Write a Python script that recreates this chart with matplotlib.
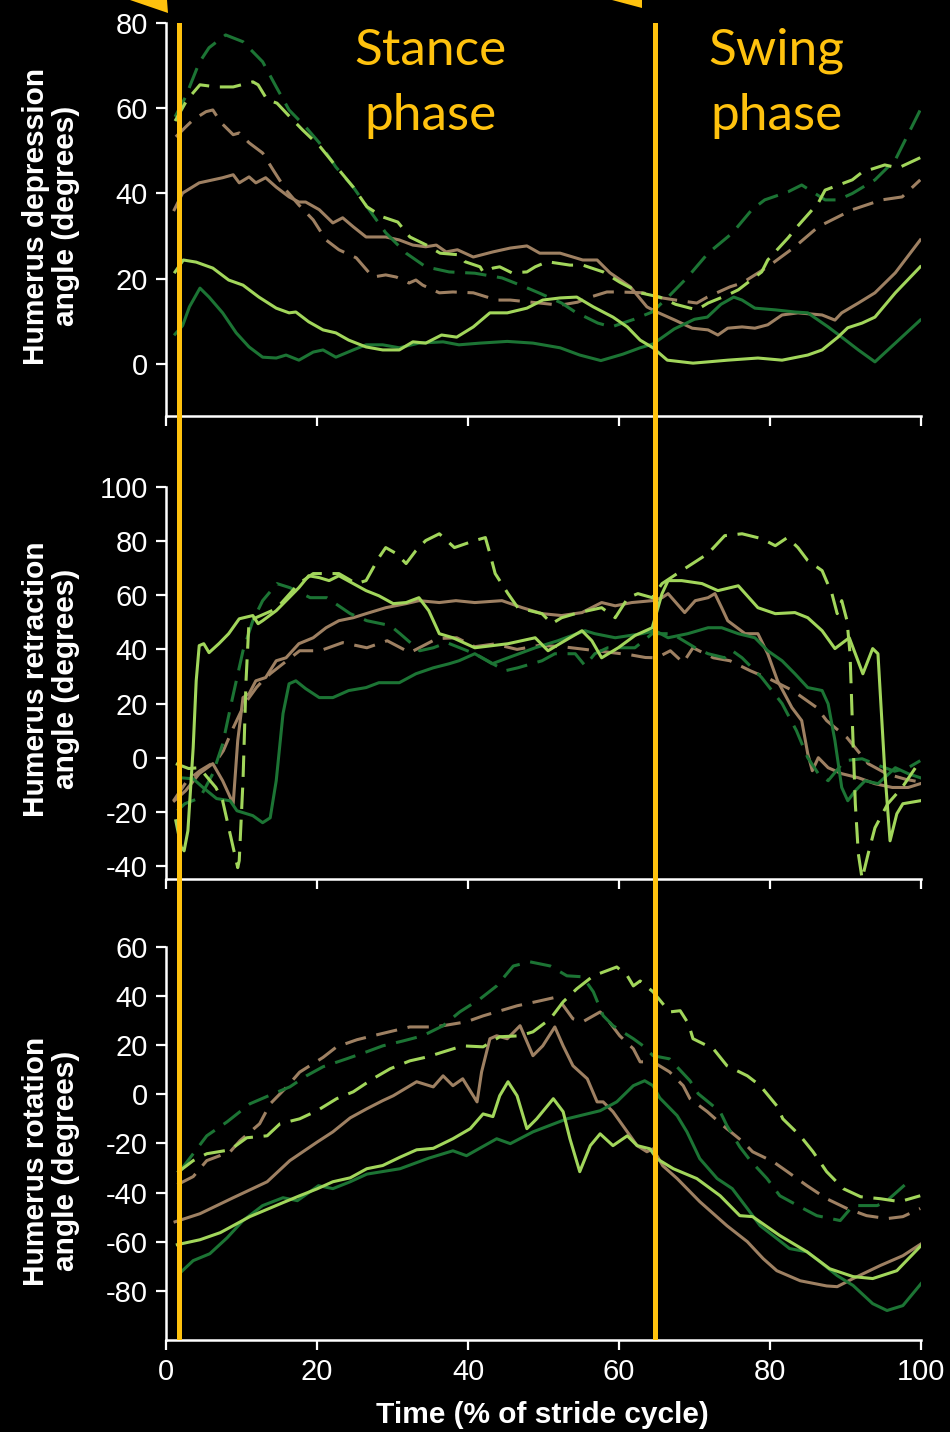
import matplotlib
matplotlib.use('Agg')
import matplotlib.pyplot as plt
from matplotlib.patches import Polygon

plt.rcParams['font.family'] = ['Liberation Sans', 'DejaVu Sans']
plt.rcParams['axes.unicode_minus'] = False

# phase boundaries (% of stride)
phase_lines = [1.7, 64.8]
xticks = [0, 20, 40, 60, 80, 100]

# ---- humerus depression ----
dep_light_solid_x = [1.2, 2.3, 4.0, 6.2, 8.3, 10.2, 12.3, 14.6, 16.3, 17.2, 18.9, 20.8, 22.5, 24.2, 26.5, 28.7, 30.9, 32.7, 34.4, 36.5, 38.5, 40.7, 42.9, 45.2, 47.8, 49.9, 52.2, 54.4, 56.6, 59.2, 61.1, 62.8, 64.5, 66.4, 69.8, 71.8, 74.4, 78.4, 81.6, 85.0, 86.9, 89.0, 90.3, 92.2, 93.9, 96.6, 99.9]
dep_light_solid_y = [21.6, 24.4, 23.9, 22.5, 19.7, 18.5, 15.7, 13.1, 12.0, 12.2, 9.9, 8.0, 7.3, 5.6, 4.0, 3.3, 3.3, 5.2, 4.9, 6.8, 6.3, 8.7, 12.0, 12.0, 13.1, 15.0, 15.5, 15.7, 13.4, 11.0, 8.7, 5.6, 3.8, 0.9, 0.2, 0.5, 0.9, 1.4, 0.9, 2.1, 3.3, 6.3, 8.5, 9.6, 11.0, 16.7, 22.8]
dep_light_dash_x = [1.2, 2.8, 4.5, 6.7, 8.9, 11.5, 12.2, 13.4, 14.7, 16.4, 18.1, 20.4, 22.6, 24.8, 26.6, 28.7, 30.7, 32.3, 34.5, 36.3, 38.9, 39.6, 41.6, 42.0, 43.3, 44.2, 45.8, 47.8, 48.9, 50.5, 53.5, 55.2, 57.9, 60.1, 62.8, 65.4, 67.5, 70.3, 71.8, 74.4, 75.8, 78.9, 79.7, 82.4, 83.6, 86.4, 87.3, 90.9, 92.2, 95.2, 97.0, 99.9]
dep_light_dash_y = [57, 62, 65.5, 65, 65, 66.2, 65.5, 62, 61.2, 58, 54.9, 51, 46.2, 41.5, 36.9, 34.5, 33.3, 29.8, 27.9, 26, 25.6, 24, 22.8, 21.6, 22.5, 22.8, 21.4, 21.6, 22.8, 24, 23.2, 23.2, 21.6, 19.2, 16.7, 15.7, 14, 12.7, 14.3, 16.2, 17.4, 21.6, 24.4, 29.6, 32.2, 37.8, 40.8, 43.2, 45, 46.7, 46, 48.4]
dep_dark_solid_x = [1.2, 2.2, 3.1, 4.5, 5.7, 7.5, 9.3, 11.0, 12.8, 14.6, 15.9, 17.6, 19.5, 20.8, 22.5, 24.8, 26.5, 28.7, 30.9, 33.5, 36.7, 38.8, 41.6, 45.2, 48.6, 52.2, 54.8, 57.6, 60.5, 62.8, 64.5, 67.3, 70.0, 71.7, 73.5, 75.2, 76.3, 78.0, 80.7, 83.3, 85.0, 87.7, 89.5, 91.7, 93.9, 96.6, 99.9]
dep_dark_solid_y = [7, 9, 13.4, 17.8, 15.7, 12, 7.3, 4, 1.6, 1.4, 2.1, 0.9, 2.8, 3.3, 1.6, 3.3, 4.5, 4.5, 3.8, 4.9, 5.2, 4.5, 4.9, 5.3, 4.9, 3.8, 2.1, 0.8, 2.3, 3.8, 4.7, 8.2, 10.5, 11, 14, 15.7, 15, 13.1, 12.7, 12.2, 12, 8.7, 6.3, 3.3, 0.5, 4.9, 10.3]
dep_dark_dash_x = [1.2, 2.6, 4.4, 5.7, 7.9, 10.2, 12.8, 14.6, 16.3, 18.5, 20.3, 22.5, 24.8, 26.9, 29.1, 31.8, 34.4, 37.5, 40.9, 44.5, 47.5, 49.5, 52.4, 54.2, 57.2, 59.0, 62.0, 64.4, 66.5, 69.1, 71.8, 75.0, 77.6, 79.3, 82.4, 84.2, 87.3, 89.0, 90.9, 93.9, 96.6, 99.9]
dep_dark_dash_y = [58, 62.7, 70.7, 74.2, 77.2, 75.6, 70.9, 65, 59.6, 55.6, 51.9, 46.2, 41.5, 36.2, 30.8, 26, 22.8, 21.6, 21.3, 20.2, 18.1, 16.6, 14.3, 12.2, 9.6, 8.7, 10.5, 12.2, 15.7, 20.4, 26, 30.7, 36.2, 38.5, 40.4, 42, 38.5, 38.5, 40, 43.2, 47.9, 59.6]
dep_brown_solid_x = [1.1, 2.2, 4.4, 7.5, 8.9, 9.7, 11.0, 11.9, 13.2, 14.6, 16.3, 17.6, 18.5, 20.3, 22.1, 23.4, 24.8, 26.5, 29.1, 30.9, 32.7, 34.4, 35.8, 37.1, 38.6, 40.7, 43.3, 45.6, 47.8, 49.5, 52.2, 55.2, 57.1, 58.8, 61.5, 63.7, 65.0, 67.4, 69.7, 71.8, 73.1, 74.4, 76.3, 78.0, 79.7, 81.6, 83.7, 86.9, 88.6, 89.5, 91.7, 93.9, 96.6, 99.9]
dep_brown_solid_y = [36.2, 40.1, 42.5, 43.7, 44.4, 42.5, 43.9, 42.5, 43.7, 41.5, 39.2, 38, 38, 36.2, 33.1, 34.3, 32.2, 29.8, 29.8, 29.1, 27.9, 27.5, 27.9, 26.3, 26.8, 25.1, 26.3, 27.2, 27.7, 26, 26, 24.4, 24.4, 21.4, 18.1, 13.4, 12.2, 10.3, 8.4, 8, 6.8, 8.4, 8.7, 8.4, 9.2, 11.5, 12, 11.5, 10.3, 12, 14.3, 16.7, 21.4, 29.1]
dep_brown_dash_x = [1.3, 2.6, 3.6, 5.3, 6.2, 7.3, 8.9, 9.7, 11.0, 12.8, 14.2, 15.9, 17.6, 19.5, 21.2, 22.9, 25.2, 27.4, 29.1, 30.5, 32.2, 33.1, 34.0, 36.2, 38.0, 40.7, 43.8, 45.6, 47.8, 49.5, 52.2, 54.5, 56.2, 58.4, 60.1, 63.2, 65.0, 67.5, 70.3, 71.7, 74.7, 76.3, 79.7, 83.3, 86.4, 90.9, 94.8, 97.5, 99.9]
dep_brown_dash_y = [53.3, 55.6, 57.3, 59.2, 59.6, 56.6, 53.8, 54.2, 51.9, 49.5, 45.5, 40.8, 37.3, 33.8, 29.1, 26.8, 24.9, 20.4, 20.9, 20.4, 19, 19.7, 18.5, 16.7, 16.9, 16.7, 15, 15, 14.6, 14.3, 13.8, 14.5, 15.7, 16.9, 16.9, 16.7, 15.7, 15, 14.3, 15.7, 18.1, 19, 22.8, 27.5, 32.2, 36.2, 38.5, 39.2, 43.2]

# ---- humerus retraction ----
ret_light_solid_x = [1.3, 2.0, 2.4, 2.9, 3.6, 4.0, 4.4, 5.0, 5.7, 7.0, 8.3, 9.7, 11.5, 12.2, 12.8, 14.6, 16.3, 17.6, 18.9, 20.3, 21.6, 22.9, 24.8, 26.5, 28.2, 30.1, 31.8, 33.5, 34.8, 36.2, 38.0, 40.9, 45.3, 48.9, 50.6, 52.4, 55.1, 56.4, 57.7, 59.9, 62.1, 64.4, 65.7, 66.5, 68.3, 71.0, 73.1, 75.8, 78.4, 80.7, 83.3, 85.0, 86.9, 88.6, 90.5, 92.3, 93.6, 94.3, 95.2, 95.9, 96.8, 97.6, 99.9]
ret_light_solid_y = [-23.3, -33, -34.4, -27, 3.7, 28.4, 41.4, 42.1, 38.8, 42.1, 45.8, 51.3, 52.5, 49.5, 50.6, 54.3, 59.1, 62.8, 67.2, 66.5, 65.4, 67.2, 64.3, 61.7, 59.8, 56.9, 57.3, 59.1, 54.3, 45.8, 44.3, 40.6, 42.1, 44.3, 39.5, 42.5, 46.9, 43.2, 36.9, 40.6, 45.1, 48, 60.6, 65.4, 65.4, 64.3, 61.7, 63.5, 55.4, 53.2, 53.6, 51.7, 46.9, 40.3, 44.3, 31, 40.3, 38.4, -4.8, -30.7, -20.7, -17, -15.9]
ret_light_dash_x = [1.3, 3.0, 4.4, 6.6, 7.5, 9.5, 9.7, 10.2, 10.6, 11.0, 11.9, 14.6, 17.6, 19.5, 22.9, 25.2, 26.5, 28.2, 29.1, 30.5, 31.8, 33.1, 34.4, 36.2, 38.2, 40.9, 42.3, 42.9, 43.6, 45.3, 46.6, 49.8, 51.1, 52.4, 54.2, 55.9, 57.7, 59.5, 61.2, 62.5, 64.4, 65.7, 68.3, 71.8, 74.0, 76.3, 78.9, 80.7, 82.3, 83.7, 85.0, 86.9, 88.2, 88.9, 89.5, 90.2, 90.6, 90.9, 91.3, 91.7, 92.2, 93.0, 93.9, 95.6, 97.5, 99.9]
ret_light_dash_y = [-2.2, -4, -3.7, -11, -15.9, -40.6, -38, -8.5, 28.4, 50.6, 51.7, 55, 64.3, 68, 68, 64.3, 65.4, 73.9, 77.6, 75.4, 71.7, 76.5, 80.2, 82.7, 77.6, 80.2, 81.3, 75.4, 68, 60.6, 55.4, 53.2, 49.5, 51.7, 53.2, 54.3, 55.4, 51.7, 59.1, 60.6, 59.1, 64.3, 69.1, 75.4, 82, 82.7, 80.9, 78.3, 81.3, 77.6, 72.8, 69.1, 60.6, 53.2, 58, 50.6, 38.4, 13.7, -17, -35.5, -44.7, -35.5, -25.9, -17, -11, -1.1]
ret_dark_solid_x = [1.9, 3.6, 4.9, 6.7, 8.5, 9.4, 11.5, 12.8, 13.8, 14.6, 15.5, 16.3, 17.2, 18.5, 20.3, 22.1, 24.2, 26.5, 28.2, 30.9, 33.1, 35.4, 37.5, 38.8, 40.9, 43.2, 45.3, 48.9, 51.9, 55.5, 56.8, 59.5, 63.0, 64.8, 66.5, 69.1, 71.8, 73.6, 75.8, 78.0, 79.7, 81.6, 83.3, 85.0, 86.9, 87.7, 88.6, 89.5, 90.3, 91.3, 92.6, 94.3, 96.6, 98.3, 99.9]
ret_dark_solid_y = [-7.4, -7.8, -11, -15.1, -15.9, -19.6, -21.4, -24, -22.2, -8.5, 16.3, 27.3, 28.4, 25.5, 22.2, 22.2, 24.8, 25.9, 27.7, 27.7, 31, 33.2, 34.7, 35.8, 38.4, 34.7, 36.9, 40.6, 43.2, 46.9, 45.8, 44.3, 45.8, 46.9, 44.3, 45.8, 48, 48, 45.8, 44.3, 39.5, 35.8, 31, 25.9, 24.8, 19.9, 6.3, -11, -15.9, -12.2, -8.5, -9.6, -3.7, -5.9, -7.4]
ret_dark_dash_x = [1.5, 2.5, 4.5, 6.2, 7.5, 8.8, 10.2, 11.5, 12.8, 14.7, 16.4, 19.1, 21.3, 24.4, 26.6, 29.7, 31.0, 33.6, 35.4, 37.2, 40.9, 42.6, 44.9, 46.6, 49.8, 51.5, 54.2, 55.5, 56.8, 58.5, 62.1, 64.4, 67.0, 70.1, 71.8, 74.0, 75.0, 76.3, 78.9, 81.6, 83.5, 85.0, 86.4, 87.7, 89.9, 92.2, 94.5, 96.5, 98.3, 99.9]
ret_dark_dash_y = [-19.6, -17, -14.8, -5.9, 5, 22, 39.5, 50.6, 58, 64.3, 62.8, 59.1, 59.1, 53.2, 50.6, 48.8, 45.8, 39.5, 40.6, 42.5, 38.4, 35.8, 32.1, 33.2, 35.8, 38.4, 38.4, 34, 38.4, 40.6, 40.6, 45.8, 45.8, 40.6, 38.4, 36.9, 39.5, 36.9, 29.6, 20, 10, 0, -5.9, -8.5, -1.1, -0.4, -3, -5, -3.7, -1.1]
ret_brown_solid_x = [1.1, 2.6, 4.4, 6.2, 7.5, 8.9, 9.5, 10.2, 11.0, 11.9, 13.2, 14.6, 15.9, 17.6, 19.5, 21.2, 22.9, 24.8, 26.5, 29.1, 31.8, 33.5, 36.2, 38.4, 40.9, 44.5, 47.2, 49.8, 52.4, 55.1, 57.7, 59.5, 61.7, 64.4, 65.7, 66.5, 68.7, 70.1, 71.8, 72.7, 73.6, 74.4, 76.7, 78.4, 79.7, 81.0, 82.9, 84.2, 85.0, 85.6, 86.4, 87.7, 89.5, 91.7, 93.9, 96.2, 98.3, 99.9]
ret_brown_solid_y = [-15.9, -12.2, -5.9, -2.2, -8.5, -17, 6.3, 22.2, 23.6, 28.4, 29.6, 35.8, 36.9, 42.1, 44.3, 48, 50.6, 51.7, 53.2, 55.4, 56.9, 58, 57.3, 58, 57.3, 58, 55.4, 53.2, 52.5, 53.6, 57.3, 56.1, 57.3, 58, 59.1, 60.6, 53.6, 58, 59.1, 60.6, 55.4, 50.6, 45.8, 45.8, 38.4, 28.4, 18.5, 13.7, 1.5, -4.8, 0, -3.7, -5.9, -7.4, -9.6, -11, -11, -9.6]
ret_brown_dash_x = [1.0, 2.8, 4.5, 6.7, 7.6, 8.9, 9.8, 10.7, 12.0, 12.8, 13.8, 16.0, 17.7, 20.4, 23.4, 26.6, 29.3, 32.3, 35.9, 38.5, 40.9, 43.5, 46.5, 49.5, 52.5, 55.5, 58.5, 61.5, 63.5, 65.0, 66.8, 68.5, 69.8, 72.5, 74.7, 77.4, 80.0, 83.0, 86.2, 87.5, 90.2, 93.0, 95.5, 98.0, 99.9]
ret_brown_dash_y = [-15.9, -8.5, -4.8, -1.1, 2.6, 11, 16.3, 21, 26, 28.4, 31, 35.8, 39.5, 39.5, 42.5, 40.6, 43.2, 38.8, 44, 44.3, 41, 42, 40, 41.5, 41, 40, 39, 38, 37, 36.9, 39.5, 35.1, 40.6, 36.9, 35.8, 32.1, 29, 24.8, 18.5, 13.7, 7.4, -2.2, -6, -8, -9]

# ---- humerus rotation ----
rot_light_solid_x = [1.5, 4.5, 7.2, 11.1, 15.5, 17.7, 20.0, 22.1, 24.4, 26.6, 28.7, 31.0, 33.2, 35.4, 38.0, 40.3, 42.0, 43.3, 44.2, 45.3, 46.5, 47.8, 49.1, 51.3, 52.6, 53.5, 54.8, 56.2, 57.5, 59.2, 61.1, 62.4, 64.1, 65.0, 67.2, 70.3, 73.4, 76.0, 77.7, 81.3, 84.9, 87.9, 91.0, 93.6, 96.8, 100.0]
rot_light_solid_y = [-61.2, -59.2, -56.3, -49.8, -44.1, -41.3, -38.5, -35.6, -34, -30.3, -29, -25.6, -22.6, -22, -18.1, -14, -8, -9.1, -0.6, 5.1, -0.6, -14, -10, -1.8, -7.1, -18.1, -31.5, -20.9, -16.1, -20.9, -16.9, -20.9, -22.2, -26.2, -30.3, -34.3, -41.3, -49.4, -49.8, -57.5, -64.1, -71, -74.2, -75, -71.8, -61.6]
rot_light_dash_x = [1.5, 3.6, 5.4, 8.5, 10.7, 13.4, 15.1, 17.7, 20.0, 22.6, 24.8, 27.4, 29.7, 32.3, 34.6, 37.2, 39.3, 42.0, 44.2, 46.9, 48.6, 50.9, 52.6, 54.4, 56.6, 59.7, 61.1, 61.9, 62.8, 64.5, 66.7, 68.1, 69.2, 69.8, 72.5, 74.3, 77.0, 78.7, 80.9, 81.7, 84.0, 85.7, 87.5, 89.7, 92.0, 94.6, 97.2, 99.9]
rot_light_dash_y = [-31.9, -27, -24.2, -22.6, -17.7, -16.9, -12, -10, -6.7, -1.8, 1, 6.3, 10.4, 13.6, 15.2, 17.7, 19.7, 19.3, 23.4, 23.8, 25.4, 30.7, 37.6, 42.9, 48.2, 51.8, 48.2, 44.1, 46.1, 41.7, 33.5, 34, 28.7, 22.6, 18.5, 11.6, 7.5, 3.5, -4.7, -10, -16.9, -23.4, -31.5, -38.4, -41.7, -42.5, -43.7, -41.3]
rot_dark_solid_x = [1.9, 3.6, 5.8, 8.1, 10.2, 12.8, 15.5, 17.4, 20.2, 22.1, 24.4, 26.6, 31.0, 34.8, 38.0, 39.8, 43.8, 45.6, 48.6, 53.1, 57.5, 59.7, 61.9, 63.4, 64.5, 65.4, 67.7, 69.0, 70.7, 73.0, 75.0, 77.0, 78.7, 80.9, 82.6, 84.9, 86.6, 88.9, 91.0, 93.6, 95.5, 97.6, 100.0]
rot_dark_solid_y = [-72.6, -67.7, -64.9, -58.4, -51.4, -45.3, -42.1, -43.3, -37.2, -38.4, -35.6, -32.5, -30.3, -26, -23, -25, -18.1, -20.1, -15.3, -10, -6.7, -3.1, 3.5, 5.5, 3.5, -1.5, -8.7, -15.3, -26.2, -34.3, -38.4, -46.5, -53.5, -58.7, -62.8, -64.1, -68.1, -73.8, -77.8, -85.2, -88, -86, -77.1]
rot_dark_dash_x = [1.9, 3.6, 5.4, 8.1, 11.1, 14.2, 16.4, 18.6, 20.8, 23.9, 26.6, 28.7, 31.4, 34.0, 36.7, 38.9, 41.6, 43.8, 46.0, 48.2, 50.9, 53.1, 55.2, 56.6, 57.9, 59.2, 61.9, 63.2, 64.5, 66.7, 69.4, 70.5, 73.4, 74.3, 76.0, 77.4, 79.6, 81.3, 84.4, 86.2, 89.3, 91.0, 94.2, 95.5, 98.8]
rot_dark_dash_y = [-31.1, -24.2, -16.9, -11.2, -3.9, 0.2, 3, 7.5, 11.2, 14.4, 17.3, 19.7, 21.7, 23.8, 27.9, 33.5, 38.8, 44.1, 52.2, 53.9, 52.2, 48.2, 47.8, 41.7, 32, 27.9, 22.6, 19.7, 15.7, 14.4, 5.5, 0.2, -7.1, -12.8, -21.4, -27, -34.3, -41.3, -46.5, -49.4, -51.4, -45.3, -45.3, -43.3, -34.3]
rot_brown_solid_x = [1.2, 4.5, 8.9, 13.4, 16.4, 20.0, 22.1, 24.4, 26.6, 28.7, 30.1, 33.2, 35.4, 36.7, 38.0, 39.3, 41.2, 41.8, 42.9, 43.8, 45.2, 46.9, 48.6, 49.9, 51.5, 52.6, 53.9, 55.8, 57.1, 57.9, 59.2, 61.1, 62.4, 63.7, 64.5, 65.8, 67.7, 70.7, 74.3, 77.0, 79.1, 80.9, 84.0, 87.5, 88.9, 91.0, 94.6, 97.6, 100.0]
rot_brown_solid_y = [-51.9, -48.6, -42.1, -35.6, -27, -19.5, -15.3, -9.6, -5.9, -2.6, -0.6, 5.1, 3, 7.5, 3.5, 6.3, -3.1, 9.1, 22.6, 23.8, 22.6, 27.9, 15.7, 19.7, 27.4, 19.7, 11.6, 6.3, -3.1, -3.1, -7.1, -15.3, -20.9, -23.4, -22.2, -29.1, -34.3, -43.7, -53.5, -60, -66.9, -71.8, -75.9, -78, -78.3, -75, -69.7, -65.7, -60.9]
rot_brown_dash_x = [1.5, 3.6, 5.4, 8.5, 9.8, 12.4, 13.8, 16.0, 17.7, 20.8, 22.6, 25.3, 27.4, 30.1, 32.3, 35.4, 36.7, 39.8, 42.0, 44.2, 46.5, 49.5, 51.8, 53.9, 55.2, 57.5, 58.4, 60.1, 61.9, 62.8, 64.5, 66.7, 68.5, 69.4, 71.7, 73.8, 76.4, 77.7, 80.4, 82.3, 84.9, 87.5, 90.2, 92.8, 95.5, 97.6, 99.9]
rot_brown_dash_y = [-36.8, -33.5, -27, -23.4, -18.9, -12, -3.9, 3, 9, 15, 19.3, 22.2, 23.8, 25.8, 27.4, 27.4, 27.9, 29.5, 31.9, 33.9, 36, 38, 39.6, 30.7, 29.5, 33.5, 30.7, 23.8, 18.5, 13.2, 13.2, 9.1, 3.5, -1.8, -7.1, -12.8, -19.3, -23.4, -27.4, -31.5, -37.2, -42.5, -46.5, -49.4, -50.6, -49.8, -46.5]

LIGHT = '#A2D65B'
DARK = '#1C7434'
BROWN = '#9E8062'
GOLD = '#FFC20E'

W, H = 950, 1432
fig = plt.figure(figsize=(W / 100, H / 100), dpi=100, facecolor='black')


def panel(rect_px, ylim, yticks, series, show_x):
    top, bottom = rect_px
    ax = fig.add_axes([166 / W, 1 - bottom / H, 755 / W, (bottom - top) / H])
    ax.set_facecolor('none')
    for x, y, c, dashed in series:
        if dashed:
            ax.plot(x, y, color=c, lw=2.2, dashes=(7, 3.5))
        else:
            ax.plot(x, y, color=c, lw=2.2)
    ax.set_xlim(0, 100)
    ax.set_ylim(*ylim)
    ax.set_xticks(xticks)
    ax.set_yticks(yticks)
    ax.spines['top'].set_visible(False)
    ax.spines['right'].set_visible(False)
    for s in ['left', 'bottom']:
        ax.spines[s].set_color('white')
        ax.spines[s].set_linewidth(1.8)
    ax.spines['left'].set_bounds(ylim[0], yticks[-1])
    ax.tick_params(colors='white', length=7, width=1.6, labelsize=21, pad=6,
                   labelbottom=show_x)
    for xv in phase_lines:
        ax.axvline(xv, color=GOLD, lw=3.6, zorder=5)
    return ax


panel((23, 416), (-12.2, 80), [0, 20, 40, 60, 80], [
    (dep_brown_dash_x, dep_brown_dash_y, BROWN, True),
    (dep_brown_solid_x, dep_brown_solid_y, BROWN, False),
    (dep_dark_dash_x, dep_dark_dash_y, DARK, True),
    (dep_dark_solid_x, dep_dark_solid_y, DARK, False),
    (dep_light_dash_x, dep_light_dash_y, LIGHT, True),
    (dep_light_solid_x, dep_light_solid_y, LIGHT, False),
], False)

panel((416, 879), (-44.8, 126.2), [-40, -20, 0, 20, 40, 60, 80, 100], [
    (ret_brown_dash_x, ret_brown_dash_y, BROWN, True),
    (ret_brown_solid_x, ret_brown_solid_y, BROWN, False),
    (ret_dark_dash_x, ret_dark_dash_y, DARK, True),
    (ret_dark_solid_x, ret_dark_solid_y, DARK, False),
    (ret_light_dash_x, ret_light_dash_y, LIGHT, True),
    (ret_light_solid_x, ret_light_solid_y, LIGHT, False),
], False)

panel((879, 1340), (-100, 87.6), [-80, -60, -40, -20, 0, 20, 40, 60], [
    (rot_brown_dash_x, rot_brown_dash_y, BROWN, True),
    (rot_brown_solid_x, rot_brown_solid_y, BROWN, False),
    (rot_dark_dash_x, rot_dark_dash_y, DARK, True),
    (rot_dark_solid_x, rot_dark_solid_y, DARK, False),
    (rot_light_dash_x, rot_light_dash_y, LIGHT, True),
    (rot_light_solid_x, rot_light_solid_y, LIGHT, False),
], True)

# y labels
ylabels = ['Humerus depression\nangle (degrees)',
           'Humerus retraction\nangle (degrees)',
           'Humerus rotation\nangle (degrees)']
for txt, yc in zip(ylabels, [216, 679, 1161]):
    fig.text(51 / W, 1 - yc / H, txt, rotation=90, ha='center', va='center',
             multialignment='center', fontsize=21.5, fontweight='bold',
             color='white', linespacing=1.05)

fig.text(542 / W, 1 - 1415 / H, 'Time (% of stride cycle)', ha='center',
         va='center', fontsize=21.5, fontweight='bold', color='white')

# phase titles, one text per line so the baselines sit where they should
for words, xc in [(('Stance', 'phase'), 430), (('Swing', 'phase'), 776)]:
    for word, base in zip(words, (65, 130)):
        fig.text(xc / W, 1 - base / H, word, ha='center', va='baseline',
                 fontsize=37, family='Lato', fontweight='normal', color=GOLD)

# arrow tips pointing at the phase lines
for pts in ([(130, 0), (167, 0), (168, 13)], [(612, 0), (642, 0), (642, 8)]):
    fig.add_artist(Polygon([(px / W, 1 - py / H) for px, py in pts],
                           closed=True, transform=fig.transFigure,
                           color=GOLD, lw=0))

fig.savefig('out.png', dpi=100, facecolor='black')
